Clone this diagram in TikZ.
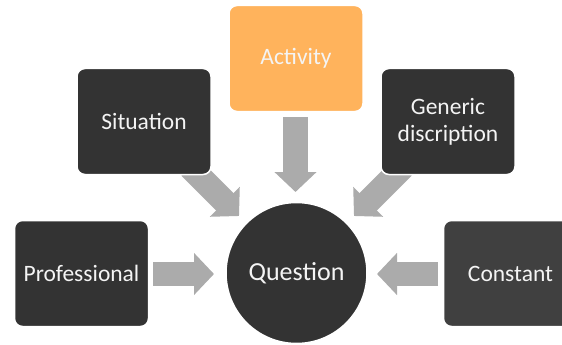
\documentclass[tikz,border=0pt]{standalone}
\usepackage{fontspec}
\setmainfont{Carlito}
\usetikzlibrary{arrows.meta,backgrounds}
\definecolor{boxdark}{HTML}{333333}
\definecolor{boxconst}{HTML}{404040}
\definecolor{boxorange}{HTML}{FFB35C}
\definecolor{arrowgray}{HTML}{ABABAB}
\definecolor{txt}{HTML}{F4F4F4}
\begin{document}
\begin{tikzpicture}[x=1pt,y=-1pt,
  box/.style={draw=white, line width=1.5pt, fill=boxdark, rounded corners=8pt,
    minimum width=134pt, minimum height=106pt, text=txt, align=center, inner sep=0pt,
    font=\fontsize{23.5}{27}\selectfont},
  hub/.style={draw=white, line width=1.5pt, fill=boxdark, circle, minimum size=141pt,
    inner sep=0pt, text=txt, font=\fontsize{26}{30}\selectfont},
  flow/.style={draw=arrowgray, line width=24.5pt, -{Triangle[length=20pt,width=41pt]}}]
\useasboundingbox (0,0) rectangle (562,345);
\clip (0,0) rectangle (562,345);

\node[box, fill=boxorange] (act) at (296,58.5) {Activity};
\node[box] (sit) at (144,121.5) {Situation};
\node[box] (gen) at (448,121.5) {Generic\\discription};
\node[box] (pro) at (81.5,273.5) {Professional};
\node[box, fill=boxconst] (con) at (510.5,273.5) {Constant};
\node[hub] (q) at (296.5,273) {Question};

\coordinate (actT) at (295.5,117);
\coordinate (actH) at (295.5,192);
\coordinate (sitT) at (190,167);
\coordinate (sitH) at (239,216);
\coordinate (genT) at (403,167);
\coordinate (genH) at (354,216);
\coordinate (proT) at (153,274);
\coordinate (proH) at (214,274);
\coordinate (conT) at (438,274);
\coordinate (conH) at (377,274);

\begin{scope}[on background layer]
\draw[flow] (actT) -- (actH);
\draw[flow] (sitT) -- (sitH);
\draw[flow] (genT) -- (genH);
\draw[flow] (proT) -- (proH);
\draw[flow] (conT) -- (conH);
\end{scope}
\end{tikzpicture}
\end{document}
